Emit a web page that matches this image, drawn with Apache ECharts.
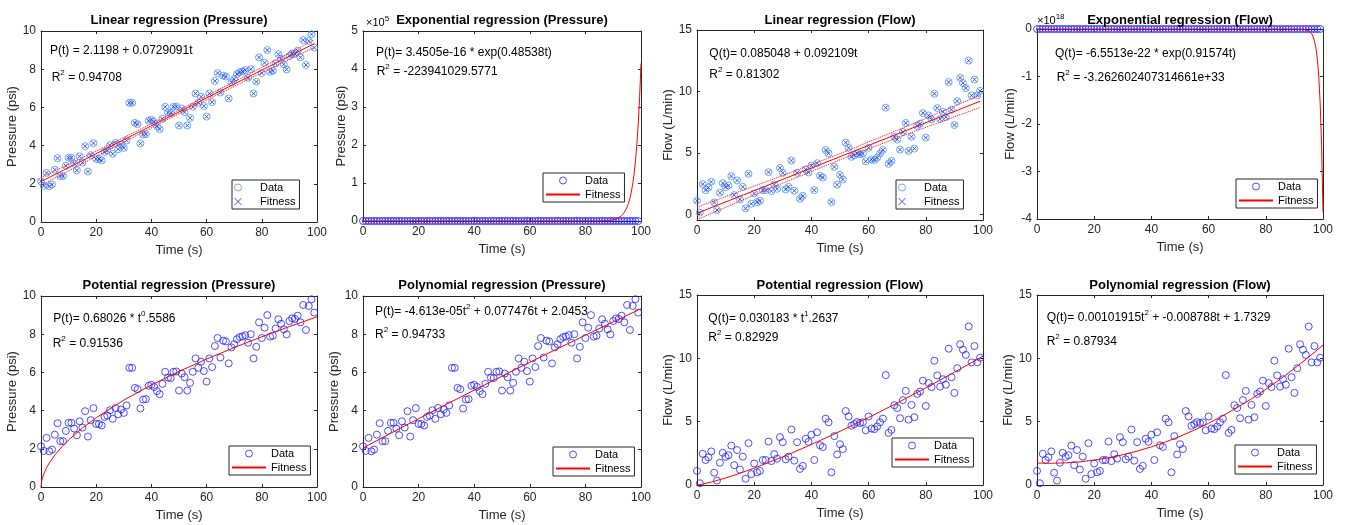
<!DOCTYPE html>
<html>
<head>
<meta charset="utf-8">
<script src="https://cdn.jsdelivr.net/npm/echarts@6/dist/echarts.min.js"></script>
<style>
  html, body { margin: 0; padding: 0; background: #fff; }
  #main { width: 1346px; height: 525px; }
</style>
</head>
<body>
<div id="main"></div>
<script>
// time (s)
const timeS = [0,1,2,3,4,5,6,7,8,9,10,11,12,13,14,15,16,17,18,19,20,21,22,23,24,25,26,27,28,29,
  30,31,32,33,34,35,36,37,38,39,40,41,42,43,44,45,46,47,48,49,50,51,52,53,54,55,56,57,58,59,
  60,61,62,63,64,65,66,67,68,69,70,71,72,73,74,75,76,77,78,79,80,81,82,83,84,85,86,87,88,89,
  90,91,92,93,94,95,96,97,98,99]

// pressure (psi)
const pressure = [2.13,1.89,2.57,1.87,1.96,2.74,3.34,2.40,2.40,2.94,
  3.36,3.36,3.06,2.71,3.44,3.11,3.97,2.64,3.50,4.13,
  3.30,3.30,3.22,3.67,3.74,4.02,3.57,4.14,3.81,4.06,
  3.88,4.27,6.24,6.24,5.19,5.12,4.11,4.58,4.60,5.30,
  5.35,5.24,5.02,4.86,5.40,6.03,5.73,5.70,6.03,6.05,
  5.05,5.94,5.75,5.05,5.45,6.03,6.73,6.24,6.56,6.07,
  5.52,6.73,6.28,7.38,7.80,6.78,7.66,7.62,6.47,7.31,
  7.48,7.74,7.85,7.88,7.95,7.55,8.00,6.73,7.34,8.62,
  7.80,8.34,9.00,7.87,7.92,8.30,8.78,8.55,8.25,7.99,
  8.69,8.83,8.80,8.97,8.62,9.53,8.22,9.48,9.83,9.13]

// flow (L/min)
const flow = [1.11,0.14,2.46,1.97,2.19,2.65,0.97,0.35,1.76,2.54,
  2.22,2.35,3.11,1.57,2.76,1.22,2.24,0.49,3.30,0.86,
  1.70,1.00,1.11,1.97,1.97,3.43,1.89,2.43,2.08,3.78,
  3.38,2.03,2.24,4.38,1.92,3.38,1.27,1.51,3.65,3.41,
  3.97,1.97,4.16,3.14,3.00,5.24,4.95,1.00,3.86,2.41,
  3.22,2.84,5.84,5.41,4.68,4.81,4.97,4.89,4.95,4.32,
  5.41,4.46,4.41,4.62,4.95,5.24,8.68,4.11,4.35,6.30,
  6.08,5.27,6.70,7.43,5.16,6.32,5.35,7.19,7.38,8.24,
  6.24,8.05,7.73,9.81,8.65,7.76,8.35,7.92,10.76,8.51,
  7.27,9.22,11.11,10.68,10.27,12.51,9.68,10.97,9.68,10.05]

// fitted curves, [t, value] as seen in each panel
const linFitP = [[0, 2.120], [99, 9.338]]
const linUpP = [[0, 2.32], [25, 4.07], [50, 5.86], [75, 7.72], [99, 9.54]]
const linLoP = [[0, 1.92], [25, 3.81], [50, 5.67], [75, 7.46], [99, 9.14]]
const expFitP = [[0, 0], [80, 25], [85, 285], [88, 1225], [90, 3234], [91, 5254], [92, 8537], [93, 13870],
  [94, 22540], [95, 36620], [95.5, 46680], [96, 59500], [96.5, 75840], [97, 96670], [97.5, 123230],
  [98, 157070], [98.5, 200200], [99, 255200], [99.5, 325300], [100, 414650]]
const linFitQ = [[0, 0.085], [99, 9.204]]
const linUpQ = [[0, 0.59], [25, 2.72], [50, 4.94], [75, 7.32], [99, 9.70]]
const linLoQ = [[0, -0.42], [25, 2.06], [50, 4.44], [75, 6.66], [99, 8.70]]
const expFitQ = [[0, 0], [90, -0.0004e18], [92, -0.00254e18], [94, -0.0158e18], [95, -0.0396e18],
  [96, -0.0990e18], [96.5, -0.1564e18], [97, -0.2473e18], [97.5, -0.3909e18], [98, -0.6178e18],
  [98.5, -0.9766e18], [99, -1.5437e18], [99.5, -2.440e18], [100, -3.857e18]]
const powFitP = [[0, 0], [0.25, 0.314], [0.5, 0.462], [1, 0.680], [2, 1.002], [3, 1.257], [5, 1.671],
  [7.5, 2.096], [10, 2.461], [15, 3.088], [20, 3.626], [30, 4.548], [40, 5.341], [50, 6.050],
  [60, 6.698], [70, 7.300], [80, 7.866], [90, 8.400], [100, 8.911]]
const polyFitP = [[0, 2.045], [10, 2.816], [20, 3.576], [30, 4.328], [40, 5.071], [50, 5.804],
  [60, 6.528], [70, 7.243], [80, 7.948], [90, 8.645], [100, 9.332]]
const powFitQ = [[0, 0], [2, 0.073], [5, 0.231], [10, 0.554], [15, 0.925], [20, 1.330], [30, 2.220],
  [40, 3.194], [50, 4.235], [60, 5.330], [70, 6.475], [80, 7.667], [90, 8.901], [100, 10.166]]
const polyFitQ = [[0, 1.733], [5, 1.715], [10, 1.747], [15, 1.830], [20, 1.965], [25, 2.150], [30, 2.387],
  [35, 2.674], [40, 3.012], [45, 3.401], [50, 3.841], [55, 4.333], [60, 4.875], [65, 5.468],
  [70, 6.112], [75, 6.807], [80, 7.552], [85, 8.349], [90, 9.197], [95, 10.096], [100, 11.046]]

const titles = ['Linear regression (Pressure)', 'Exponential regression (Pressure)',
  'Linear regression (Flow)', 'Exponential regression (Flow)',
  'Potential regression (Pressure)', 'Polynomial regression (Pressure)',
  'Potential regression (Flow)', 'Polynomial regression (Flow)']

const fontFam = 'Liberation Sans, Arial, Helvetica, sans-serif'
const axisCol = '#262626'
const blue = '#2222ff'
const lightBlue = '#3f9be8'
const red = '#ff0000'
const xMark = 'path://M0,0L10,10M10,0L0,10'

// plot boxes
const grids = [
  { left: 41, top: 31, width: 276, height: 191 },
  { left: 363, top: 31, width: 278, height: 190 },
  { left: 697, top: 30, width: 286, height: 190 },
  { left: 1037, top: 29, width: 286, height: 190 },
  { left: 41, top: 296, width: 276, height: 191 },
  { left: 363, top: 296, width: 278, height: 191 },
  { left: 697, top: 295, width: 286, height: 190 },
  { left: 1037, top: 295, width: 286, height: 190 }
]

const ySpecs = [
  { name: 'Pressure (psi)', min: 0, max: 10, interval: 2, gap: 20 },
  { name: 'Pressure (psi)', min: 0, max: 5e5, interval: 1e5, div: 1e5, gap: 13 },
  { name: 'Flow (L/min)', min: -0.46, max: 15, ticks: [0, 5, 10, 15], gap: 21 },
  { name: 'Flow (L/min)', min: -4e18, max: 0, interval: 1e18, div: 1e18, gap: 20 },
  { name: 'Pressure (psi)', min: 0, max: 10, interval: 2, gap: 20 },
  { name: 'Pressure (psi)', min: 0, max: 10, interval: 2, gap: 21 },
  { name: 'Flow (L/min)', min: 0, max: 15, interval: 5, gap: 21 },
  { name: 'Flow (L/min)', min: 0, max: 15, interval: 5, gap: 21 }
]

function xAx (gi, mirror) {
  return {
    type: 'value',
    gridIndex: gi,
    min: 0,
    max: 100,
    interval: 20,
    position: mirror ? 'top' : 'bottom',
    name: mirror ? '' : 'Time (s)',
    nameLocation: 'middle',
    nameGap: 22,
    nameTextStyle: { fontSize: 13, color: axisCol, fontFamily: fontFam },
    axisLine: { show: true, onZero: false, lineStyle: { color: axisCol, width: 1 } },
    axisTick: { show: true, inside: true, length: 3, lineStyle: { color: axisCol } },
    axisLabel: { show: !mirror, fontSize: 12, color: axisCol, margin: 5, fontFamily: fontFam },
    splitLine: { show: false }
  }
}

function yAx (gi, mirror) {
  const s = ySpecs[gi]
  const ax = {
    type: 'value',
    gridIndex: gi,
    min: s.min,
    max: s.max,
    position: mirror ? 'right' : 'left',
    name: mirror ? '' : s.name,
    nameLocation: 'middle',
    nameGap: s.gap,
    nameTextStyle: { fontSize: 13, color: axisCol, fontFamily: fontFam },
    axisLine: { show: true, onZero: false, lineStyle: { color: axisCol, width: 1 } },
    axisTick: { show: true, inside: true, length: 3, lineStyle: { color: axisCol } },
    axisLabel: { show: !mirror, fontSize: 12, color: axisCol, margin: 5, fontFamily: fontFam },
    splitLine: { show: false }
  }
  if (s.ticks) {
    ax.axisLabel.customValues = s.ticks
    ax.axisTick.customValues = s.ticks
  } else {
    ax.interval = s.interval
  }
  if (s.div) {
    ax.axisLabel.formatter = v => String(Math.round(v / s.div))
  }
  return ax
}

const xAxes = []
const yAxes = []
for (let i = 0; i < 8; i++) { xAxes.push(xAx(i, false)); yAxes.push(yAx(i, false)) }
for (let i = 0; i < 8; i++) { xAxes.push(xAx(i, true)); yAxes.push(yAx(i, true)) }

const ptsP = timeS.map((t, i) => [t, pressure[i]])
const ptsQ = timeS.map((t, i) => [t, flow[i]])

const series = []
function circles (gi, pts, color, clip) {
  series.push({
    type: 'scatter', name: 'Data#' + gi, xAxisIndex: gi, yAxisIndex: gi, data: pts,
    symbol: 'circle', symbolSize: 7, clip: clip,
    itemStyle: { color: 'transparent', borderColor: color, borderWidth: 1 }
  })
}
function crosses (gi, pts) {
  series.push({
    type: 'scatter', name: 'Fitness#' + gi, xAxisIndex: gi, yAxisIndex: gi, data: pts,
    symbol: xMark, symbolSize: 4, symbolKeepAspect: true,
    itemStyle: { color: 'transparent', borderColor: blue, borderWidth: 1 }
  })
}
function curve (gi, pts, name, dotted) {
  series.push({
    type: 'line', name: name, xAxisIndex: gi, yAxisIndex: gi, data: pts,
    symbol: 'none', showSymbol: false,
    lineStyle: { color: red, width: 1, type: dotted ? 'dotted' : 'solid' },
    itemStyle: { color: red }
  })
}

circles(0, ptsP, lightBlue, true)
crosses(0, ptsP)
curve(0, linFitP, 'fit0')
curve(0, linUpP, 'up0', true)
curve(0, linLoP, 'lo0', true)

circles(1, ptsP, blue, true)
curve(1, expFitP, 'Fitness#1')

circles(2, ptsQ, lightBlue, true)
crosses(2, ptsQ)
curve(2, linFitQ, 'fit2')
curve(2, linUpQ, 'up2', true)
curve(2, linLoQ, 'lo2', true)

circles(3, ptsQ, blue, false)
curve(3, expFitQ, 'Fitness#3')

circles(4, ptsP, blue, true)
curve(4, powFitP, 'Fitness#4')
circles(5, ptsP, blue, true)
curve(5, polyFitP, 'Fitness#5')
circles(6, ptsQ, blue, true)
curve(6, powFitQ, 'Fitness#6')
circles(7, ptsQ, blue, true)
curve(7, polyFitQ, 'Fitness#7')

// legend boxes (south-east); panels 0 and 2 use crosses for Fitness
const legendPos = [[232, 180], [543, 173], [896, 180], [1236, 179],
  [229, 446], [553, 447], [892, 438], [1235, 445]]
const legends = legendPos.map((p, i) => {
  const withCross = (i === 0 || i === 2)
  const fitItem = withCross
    ? { name: 'Fitness#' + i, itemStyle: { borderWidth: 1 } }
    : { name: 'Fitness#' + i, itemStyle: { opacity: 0 } }
  return {
    data: [{ name: 'Data#' + i, itemStyle: { borderWidth: 1 } }, fitItem],
    orient: 'vertical',
    left: p[0],
    top: p[1],
    itemWidth: 34,
    itemHeight: 7,
    itemGap: 3,
    padding: [2, 4, 2, 2],
    backgroundColor: '#fff',
    borderColor: axisCol,
    borderWidth: 1,
    borderRadius: 0,
    selectedMode: false,
    formatter: n => n.split('#')[0],
    textStyle: { fontSize: 11, color: '#000', fontFamily: fontFam }
  }
})

const titleComps = titles.map((t, i) => ({
  text: t,
  left: grids[i].left + grids[i].width / 2,
  top: i < 4 ? 14 : 279,
  textAlign: 'center',
  padding: 0,
  textStyle: { fontSize: 13, fontWeight: 'bold', color: '#000', fontFamily: fontFam }
}))

// equation annotations
const rich = {
  n: { fontSize: 12, lineHeight: 18, fontFamily: fontFam, color: '#1a1a1a' },
  s: { fontSize: 8, lineHeight: 8, verticalAlign: 'top', fontFamily: fontFam, color: '#1a1a1a' },
  m: { fontSize: 11, lineHeight: 16, fontFamily: fontFam, color: axisCol },
  ms: { fontSize: 8, lineHeight: 8, verticalAlign: 'top', fontFamily: fontFam, color: axisCol }
}
const notes = [
  [50, 51, '{n|P(t) = 2.1198 + 0.0729091t}'],
  [51.7, 78, '{n|R}{s|2}{n| = 0.94708}'],
  [376, 52.7, '{n|P(t)= 3.4505e-16 * exp(0.48538t)}'],
  [376.7, 71.7, '{n|R}{s|2}{n| = -223941029.5771}'],
  [709.3, 53.3, '{n|Q(t)= 0.085048 + 0.092109t}'],
  [709.3, 75, '{n|R}{s|2}{n| = 0.81302}'],
  [1055, 53.3, '{n|Q(t)= -6.5513e-22 * exp(0.91574t)}'],
  [1056.7, 77.3, '{n|R}{s|2}{n| = -3.262602407314661e+33}'],
  [53.3, 318.3, '{n|P(t)= 0.68026 * t}{s|0}{n|.5586}'],
  [52.7, 344, '{n|R}{s|2}{n| = 0.91536}'],
  [375, 311.7, '{n|P(t)= -4.613e-05t}{s|2}{n| + 0.077476t + 2.0453}'],
  [375, 335, '{n|R}{s|2}{n| = 0.94733}'],
  [708.3, 318.3, '{n|Q(t)= 0.030183 * t}{s|1}{n|.2637}'],
  [708.3, 337.7, '{n|R}{s|2}{n| = 0.82929}'],
  [1046.7, 317.7, '{n|Q(t)= 0.00101915t}{s|2}{n| + -0.008788t + 1.7329}'],
  [1046.7, 341.7, '{n|R}{s|2}{n| = 0.87934}'],
  [366, 23, '{m|×10}{ms|5}'],
  [1037, 21, '{m|×10}{ms|18}']
]
const graphics = notes.map(n => ({
  type: 'text',
  x: n[0],
  y: n[1],
  silent: true,
  style: { text: n[2], rich: rich, align: 'left', verticalAlign: 'middle' }
}))

const myChart = echarts.init(document.getElementById('main'), null, { renderer: 'canvas' })
myChart.setOption({
  animation: false,
  backgroundColor: '#fff',
  title: titleComps,
  legend: legends,
  grid: grids,
  xAxis: xAxes,
  yAxis: yAxes,
  graphic: graphics,
  series: series
})
window.addEventListener('resize', () => myChart.resize())
</script>
</body>
</html>
